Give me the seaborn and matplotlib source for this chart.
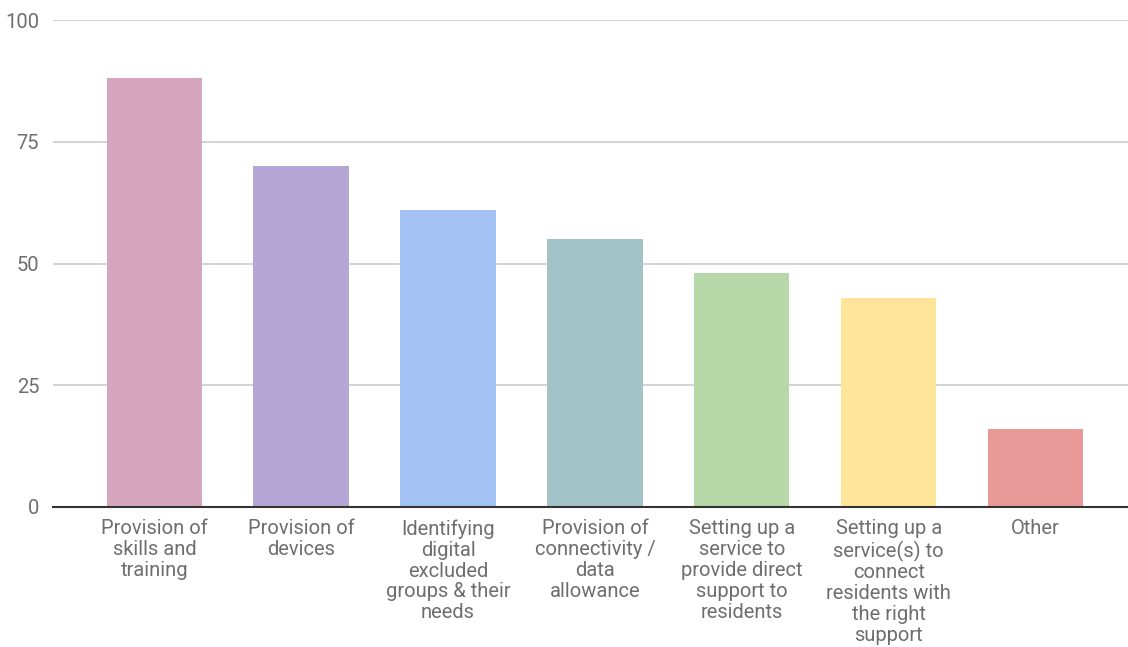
import matplotlib
matplotlib.use("Agg")
import matplotlib.pyplot as plt
import seaborn as sns
import pandas as pd

categories = [
    "Provision of\nskills and\ntraining",
    "Provision of\ndevices",
    "Identifying\ndigital\nexcluded\ngroups & their\nneeds",
    "Provision of\nconnectivity /\ndata\nallowance",
    "Setting up a\nservice to\nprovide direct\nsupport to\nresidents",
    "Setting up a\nservice(s) to\nconnect\nresidents with\nthe right\nsupport",
    "Other",
]
values = [88, 70, 61, 55, 48, 43, 16]
colors = ["#D5A6BD", "#B4A7D6", "#A4C2F4", "#A2C4C9", "#B6D7A8", "#FFE599", "#EA9999"]
y_ticks = [0, 25, 50, 75, 100]

sns.set_theme(style="white")
plt.rcParams["font.family"] = ["Roboto", "DejaVu Sans"]

df = pd.DataFrame({"category": categories, "value": values})

fig = plt.figure(figsize=(11.28, 6.47), dpi=100)
ax = fig.add_axes([0.047, 0.2164, 0.953, 0.7526])

sns.barplot(data=df, x="category", y="value", hue="category",
            palette=colors, legend=False, width=0.65, saturation=1,
            linewidth=0, ax=ax, zorder=3)

ax.set_ylim(0, 100)
ax.set_xlim(-0.69, 6.63)
ax.set_yticks(y_ticks)
ax.set_xlabel("")
ax.set_ylabel("")

ax.yaxis.grid(True, color="#CCCCCC", linewidth=1.2, zorder=0)
ax.xaxis.grid(False)
for side in ["top", "right", "left"]:
    ax.spines[side].set_visible(False)
ax.spines["bottom"].set_color("#333333")
ax.spines["bottom"].set_linewidth(1.5)
ax.spines["bottom"].set_zorder(4)

ax.tick_params(axis="y", length=0, pad=10, labelsize=14.5, labelcolor="#6E6E6E")
ax.tick_params(axis="x", length=0, pad=9, labelsize=14.5, labelcolor="#6E6E6E")
for lbl in ax.get_xticklabels():
    lbl.set_linespacing(1.12)
    lbl.set_ha("center")

fig.savefig("out.png", dpi=100, facecolor="white")
